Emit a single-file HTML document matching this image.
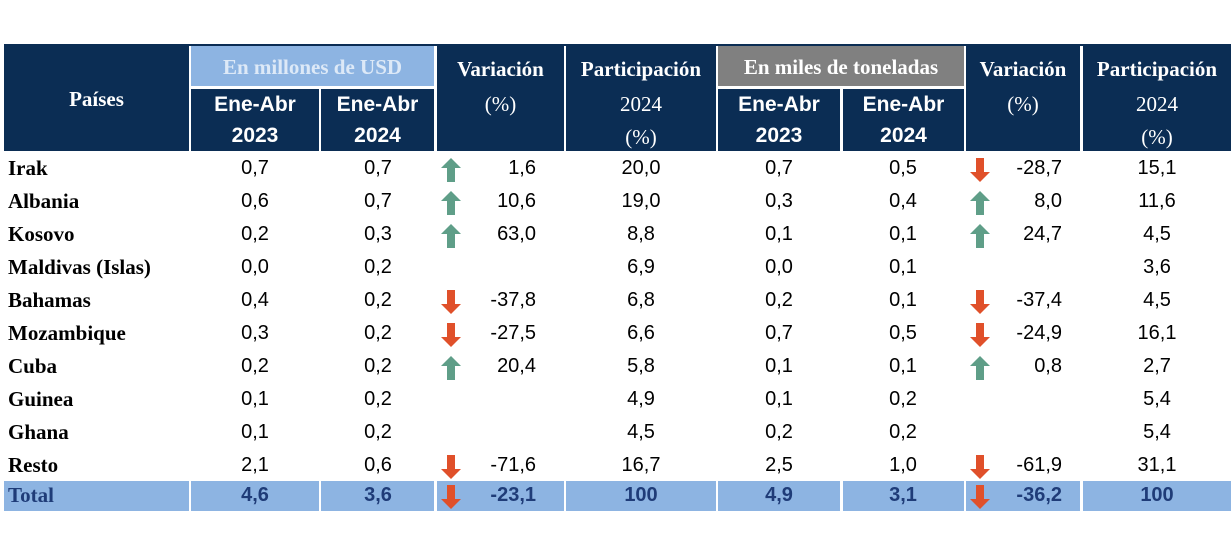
<!DOCTYPE html>
<html><head><meta charset="utf-8">
<style>
body{margin:0;width:1231px;height:552px;background:#fff;position:relative;overflow:hidden}
.a{position:absolute;box-sizing:border-box}
.h{background:#0b2d54;color:#fff;font-family:"Liberation Serif",serif;font-weight:bold;font-size:21px;text-align:center}
.l{position:absolute;left:0;right:0;text-align:center;line-height:24px}
.r{font-weight:normal}
.s{font-family:"Liberation Sans",sans-serif;font-weight:bold;font-size:21px}
.c{font-family:"Liberation Sans",sans-serif;font-size:20px;color:#000;white-space:nowrap;transform:translateX(-50%)}
.n{font-family:"Liberation Serif",serif;font-weight:bold;font-size:21px;color:#000}
.tot{background:#8db4e2}
</style></head><body>
<div class="a" style="left:4px;top:44px;width:1227px;height:2px;background:#0b2d54"></div>
<div class="a h" style="left:4px;top:46px;width:185px;height:105px"><span class="l" style="top:88px;top:87px;top:86px;top:86px;top:86px;top:87px;top:87px;top:87px;top:87px;top:87px;top:87px;top:87px;top:87px;top:87px;top:41px">Países</span></div>
<div class="a h" style="left:191px;top:46px;width:243px;height:40px;background:#8db4e2;color:#dde9f7"><span class="l" style="top:9px">En millones de USD</span></div>
<div class="a h s" style="left:191px;top:89px;width:128px;height:62px;line-height:31px">Ene-Abr<br>2023</div>
<div class="a h s" style="left:321px;top:89px;width:113px;height:62px;line-height:31px">Ene-Abr<br>2024</div>
<div class="a h" style="left:437px;top:46px;width:127px;height:105px"><span class="l" style="top:11px">Variación</span><span class="l r" style="top:46px">(%)</span></div>
<div class="a h" style="left:566px;top:46px;width:150px;height:105px"><span class="l" style="top:11px">Participación</span><span class="l r" style="top:46px">2024</span><span class="l r" style="top:79px">(%)</span></div>
<div class="a h" style="left:718px;top:46px;width:246px;height:40px;background:#808080"><span class="l" style="top:9px">En miles de toneladas</span></div>
<div class="a h s" style="left:718px;top:89px;width:122px;height:62px;line-height:31px">Ene-Abr<br>2023</div>
<div class="a h s" style="left:843px;top:89px;width:121px;height:62px;line-height:31px">Ene-Abr<br>2024</div>
<div class="a h" style="left:966px;top:46px;width:114px;height:105px"><span class="l" style="top:11px">Variación</span><span class="l r" style="top:46px">(%)</span></div>
<div class="a h" style="left:1083px;top:46px;width:148px;height:105px"><span class="l" style="top:11px">Participación</span><span class="l r" style="top:46px">2024</span><span class="l r" style="top:79px">(%)</span></div>
<div id="body"></div>
<script>
const countries=["Irak","Albania","Kosovo","Maldivas (Islas)","Bahamas","Mozambique","Cuba","Guinea","Ghana","Resto","Total"];
const usd23=["0,7","0,6","0,2","0,0","0,4","0,3","0,2","0,1","0,1","2,1","4,6"];
const usd24=["0,7","0,7","0,3","0,2","0,2","0,2","0,2","0,2","0,2","0,6","3,6"];
const varUsd=["1,6","10,6","63,0","","-37,8","-27,5","20,4","","","-71,6","-23,1"];
const partUsd=["20,0","19,0","8,8","6,9","6,8","6,6","5,8","4,9","4,5","16,7","100"];
const ton23=["0,7","0,3","0,1","0,0","0,2","0,7","0,1","0,1","0,2","2,5","4,9"];
const ton24=["0,5","0,4","0,1","0,1","0,1","0,5","0,1","0,2","0,2","1,0","3,1"];
const varTon=["-28,7","8,0","24,7","","-37,4","-24,9","0,8","","","-61,9","-36,2"];
const partTon=["15,1","11,6","4,5","3,6","4,5","16,1","2,7","5,4","5,4","31,1","100"];
const body=document.getElementById('body');
const cols=[[191,128],[321,113],[437,127],[566,150],[718,122],[843,121],[966,114],[1083,148],[4,185]];
function arrow(x,y,up){
  const s=document.createElementNS('http://www.w3.org/2000/svg','svg');
  s.setAttribute('width','22');s.setAttribute('height','26');
  s.style.cssText='position:absolute;left:'+x+'px;top:'+(y-12)+'px';
  
  
  const p=document.createElementNS('http://www.w3.org/2000/svg','polygon');
  p.setAttribute('points',up?'11,1 21,11 15,11 15,25 7,25 7,11 1,11':'11,25 21,15 15,15 15,1 7,1 7,15 1,15');
  p.setAttribute('fill',up?'#5f9e88':'#e0502a');
  s.appendChild(p);body.appendChild(s);
}
function txt(x,y,t,name,extra){
  const d=document.createElement('div');
  d.className='a c';d.textContent=t;
  d.style.cssText='left:'+x+'px;top:'+(y-12)+'px;'+(extra||'');
  
  
  body.appendChild(d);return d;
}
function rtxt(xr,y,t,name,extra){
  const d=document.createElement('div');
  d.className='a';d.textContent=t;
  d.style.cssText='font-family:"Liberation Sans",sans-serif;font-size:20px;color:#000;text-align:right;width:100px;left:'+(xr-100)+'px;top:'+(y-12)+'px;'+(extra||'');
  
  
  body.appendChild(d);
}
countries.forEach((c,i)=>{
  const total=i===countries.length-1;
  const y=total?496:169+i*33;
  if(total){cols.forEach(([x,w])=>{const b=document.createElement('div');b.className='a tot';b.style.cssText='left:'+x+'px;top:481px;width:'+w+'px;height:30px';
    
    
    body.appendChild(b);});}
  const st=total?'color:#1f3c78;font-weight:bold;':'';
  const n=document.createElement('div');n.className='a n';n.textContent=c;
  n.style.cssText='left:8px;top:'+(y-13)+'px;'+(total?'color:#1f3c78':'');
  
  
  body.appendChild(n);
  txt(255,y,usd23[i],'usd-2023',st);
  txt(378,y,usd24[i],'usd-2024',st);
  if(varUsd[i]){arrow(440,y,varUsd[i][0]!=='-');rtxt(536,y,varUsd[i],'var-usd',st);}
  txt(641,y,partUsd[i],'part-usd',st);
  txt(779,y,ton23[i],'ton-2023',st);
  txt(903,y,ton24[i],'ton-2024',st);
  if(varTon[i]){arrow(969,y,varTon[i][0]!=='-');rtxt(1062,y,varTon[i],'var-ton',st);}
  txt(1157,y,partTon[i],'part-ton',st);
});
</script>
</body></html>
